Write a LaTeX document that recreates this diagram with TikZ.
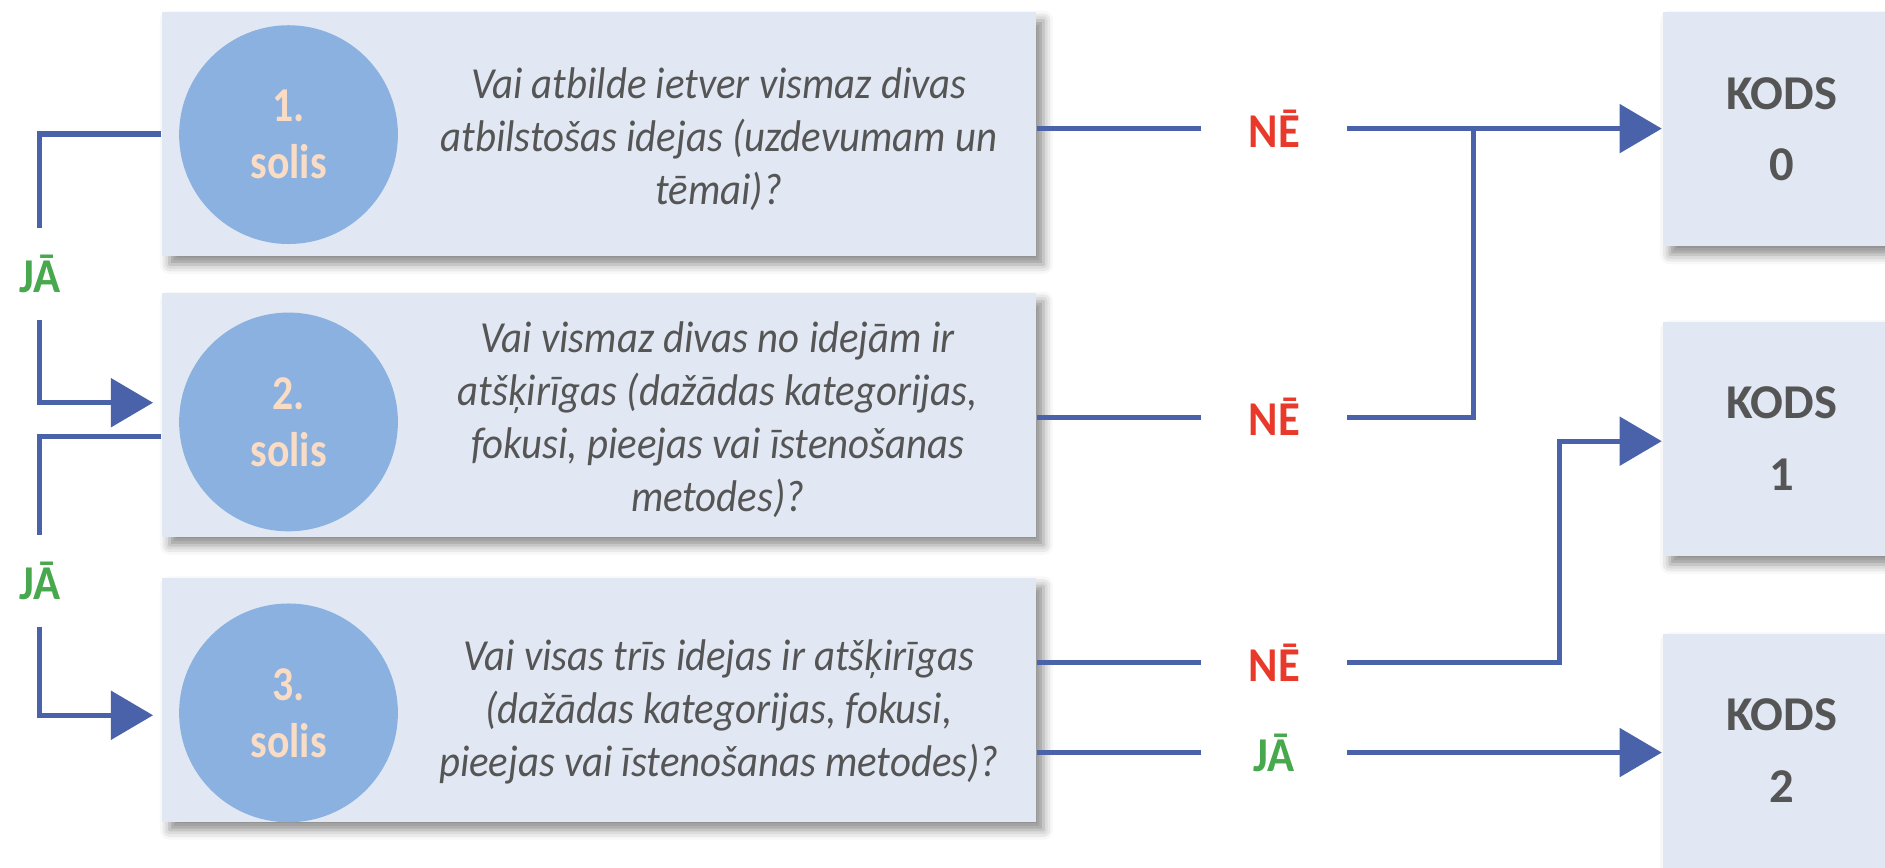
\documentclass[tikz,border=0pt]{standalone}
\usepackage{fontspec}
\setmainfont{Carlito}
\newfontfamily\narrowfont[FakeStretch=0.92]{Carlito}
\newfontfamily\soliswide[FakeStretch=0.86]{Carlito}
\usetikzlibrary{arrows.meta,calc,shadows.blur}

\definecolor{boxfill}{HTML}{E1E8F3}
\definecolor{stepblue}{HTML}{8BB1E1}
\definecolor{peach}{HTML}{FADCC4}
\definecolor{textgray}{HTML}{555555}
\definecolor{flowblue}{HTML}{4A62A9}
\definecolor{nored}{HTML}{E8392B}
\definecolor{jagreen}{HTML}{47A84D}

\begin{document}
\begin{tikzpicture}[x=0.1mm,y=-0.1mm,shorten >=0pt,-]
    \tikzstyle{stepbox}=[rectangle,fill=boxfill,minimum width=72.7mm,minimum height=20.3mm,inner sep=0pt,
        blur shadow={shadow xshift=0.6mm,shadow yshift=-0.7mm,shadow blur radius=0.8mm,shadow opacity=45}]
    \tikzstyle{kodsbox}=[rectangle,fill=boxfill,minimum width=19.8mm,minimum height=19.5mm,inner sep=0pt,align=center,
        text=textgray,font=\bfseries\fontsize{11.5}{17}\selectfont,
        blur shadow={shadow xshift=0.6mm,shadow yshift=-0.7mm,shadow blur radius=0.8mm,shadow opacity=45}]
    \tikzstyle{stepcircle}=[circle,fill=stepblue,minimum size=18.2mm,inner sep=0pt,align=center,
        text=peach,font=\soliswide\bfseries\fontsize{11.5}{13.5}\selectfont]
    \tikzstyle{question}=[align=center,text=textgray,font=\narrowfont\itshape\fontsize{10.5}{12.5}\selectfont]
    \tikzstyle{answer}=[minimum width=12mm,minimum height=7.5mm,inner sep=0pt,font=\narrowfont\bfseries\fontsize{11.5}{13}\selectfont]
    \tikzstyle{flow}=[draw=flowblue,line width=1.2pt]
    \tikzstyle{arrow}=[flow,-{Triangle[length=3.5mm,width=4mm]}]

    \clip (0,0) rectangle (1568,722);

    \foreach \num/\y in {1/111.5, 2/345, 3/582}
        \node[stepbox] (S-\num) at (498.5,\y) {};

    \foreach \num/\y in {1/112, 2/351, 3/593}
        \node[stepcircle] (C-\num) at (240,\y) {\num.\\solis};

    \node[question] (Q-1) at (598,116) {Vai atbilde ietver vismaz divas\\atbilstošas idejas (uzdevumam un\\tēmai)?};
    \node[question] (Q-2) at (597,349) {Vai vismaz divas no idejām ir\\atšķirīgas (dažādas kategorijas,\\fokusi, pieejas vai īstenošanas\\metodes)?};
    \node[question] (Q-3) at (598,592) {Vai visas trīs idejas ir atšķirīgas\\(dažādas kategorijas, fokusi,\\pieejas vai īstenošanas metodes)?};

    \foreach \num/\y in {0/107.5, 1/365, 2/624.5}
        \node[kodsbox] (K-\num) at (1482,\y) {KODS\\\num};

    % answers
    \node[answer,text=nored] (N-1) at (1060,107) {NĒ};
    \node[answer,text=nored] (N-2) at (1060,347) {NĒ};
    \node[answer,text=nored] (N-3) at (1060,551) {NĒ};
    \node[answer,text=jagreen] (N-4) at (1060,626) {JĀ};
    \node[answer,text=jagreen] (J-1) at (33,228) {JĀ};
    \node[answer,text=jagreen] (J-2) at (33,483) {JĀ};

    \coordinate (M-1) at (1226,107);
    \coordinate (M-2) at (1297,450);

    \draw[flow] (S-1.east |- N-1) -- (N-1.west);
    \draw[arrow] (N-1.east) -- (K-0.west |- N-1);
    \draw[flow] (S-2.east |- N-2) -- (N-2.west);
    \draw[flow] (N-2.east) -| (M-1);
    \draw[flow] (S-3.east |- N-3) -- (N-3.west);
    \draw[arrow] (N-3.east) -| (M-2) |- ($(K-1.west)+(0,2)$);
    \draw[flow] (S-3.east |- N-4) -- (N-4.west);
    \draw[arrow] (N-4.east) -- (K-2.west |- N-4);

    \draw[flow] (S-1.west) -| (J-1.north);
    \draw[arrow,shorten >=0.7mm] (J-1.south) |- ($(S-2.west)+(0,-10)$);
    \draw[flow] ($(S-2.west)+(0,18)$) -| (J-2.north);
    \draw[arrow,shorten >=0.7mm] (J-2.south) |- ($(S-3.west)+(0,13)$);
\end{tikzpicture}
\end{document}
